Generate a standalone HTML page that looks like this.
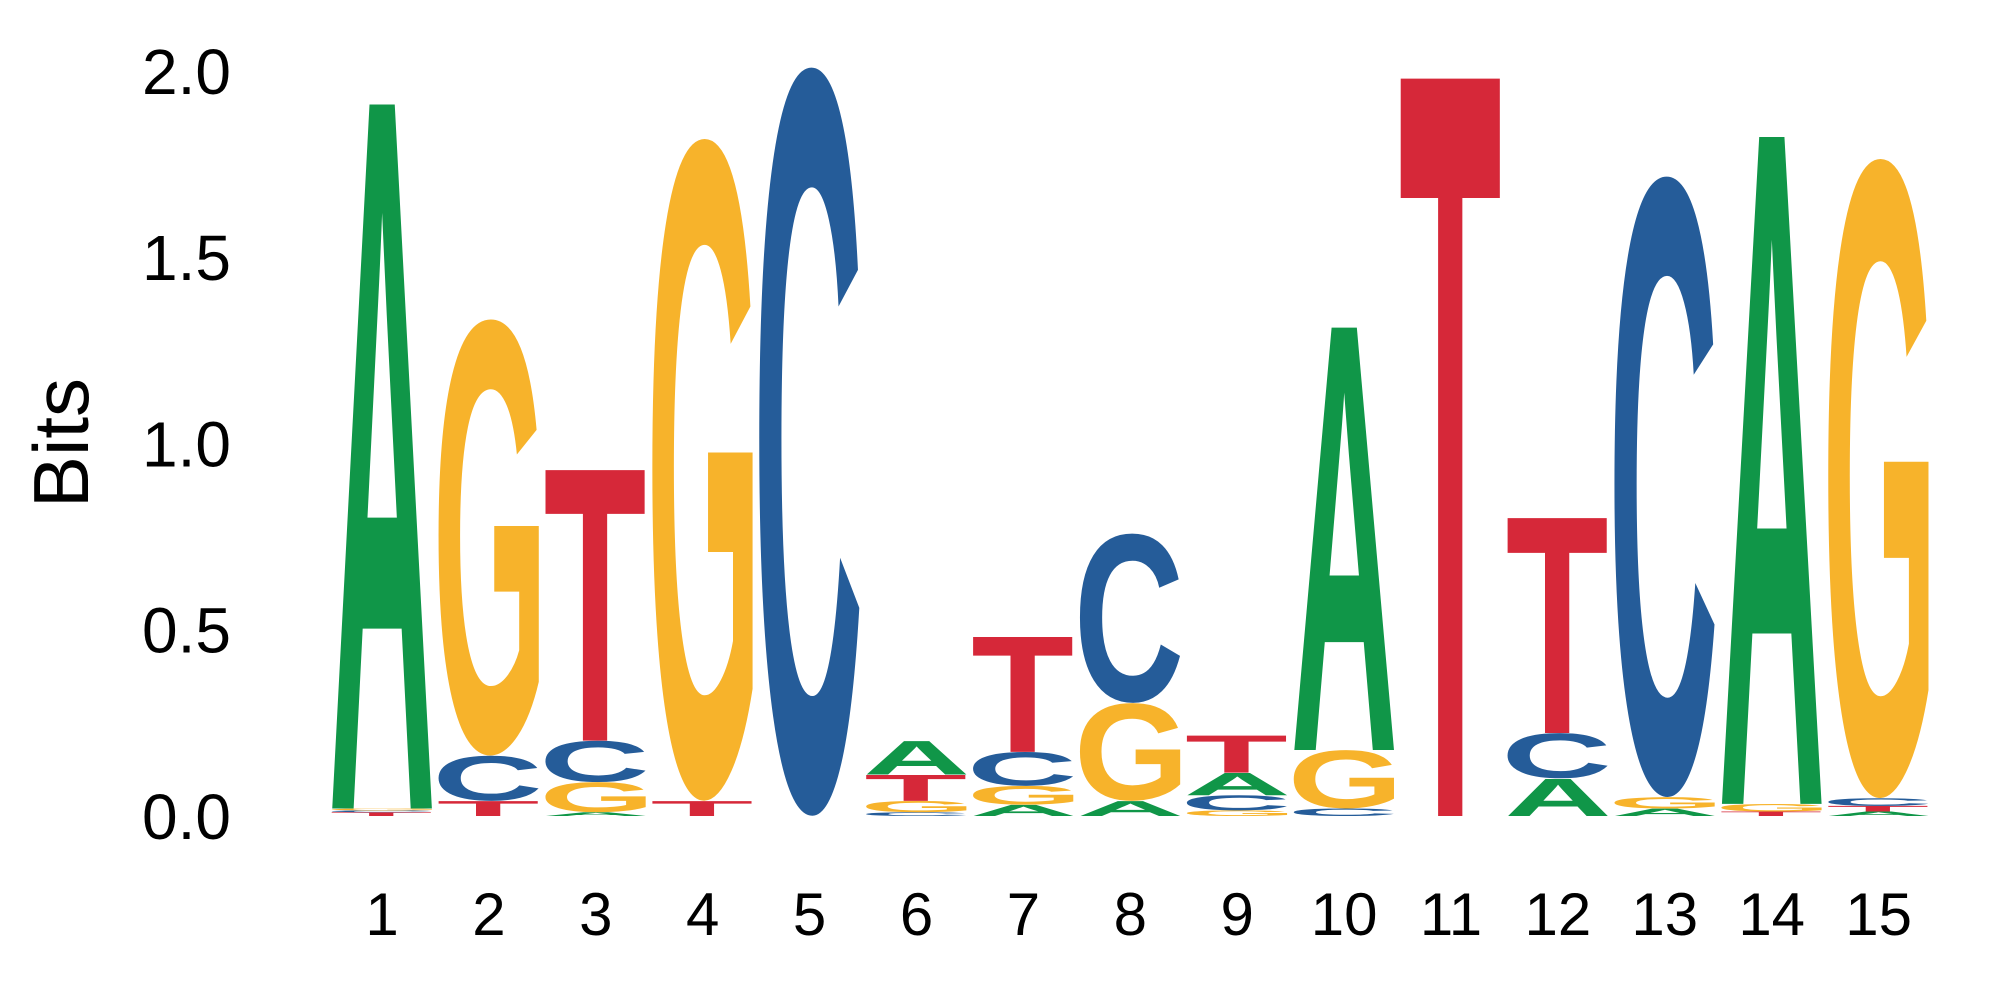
<!DOCTYPE html>
<html><head><meta charset="utf-8">
<style>
html,body{margin:0;padding:0;background:#fff;}
svg{display:block;}
text{font-family:"Liberation Sans",sans-serif;}
</style></head>
<body>
<svg id="chart" width="2000" height="1000" viewBox="0 0 2000 1000" xmlns="http://www.w3.org/2000/svg">
<g id="yaxis"></g>
<g id="xaxis"></g>
<g id="letters"></g>
<text transform="translate(88,443) rotate(-90)" text-anchor="middle" font-size="78" fill="#000">Bits</text>
</svg>
<script>
const positions = [1,2,3,4,5,6,7,8,9,10,11,12,13,14,15];
const stackLetters = [
  ["T","C","G","A"],
  ["T","C","G"],
  ["A","G","C","T"],
  ["T","G"],
  ["C"],
  ["C","G","T","A"],
  ["A","G","C","T"],
  ["A","G","C"],
  ["G","C","A","T"],
  ["C","G","A"],
  ["T"],
  ["A","C","T"],
  ["A","G","C"],
  ["T","G","A"],
  ["A","T","C","G"]
];
const stackHeights = [
  [0.01,0.005,0.005,1.90],
  [0.04,0.12,1.16],
  [0.01,0.08,0.11,0.73],
  [0.04,1.76],
  [1.99],
  [0.01,0.03,0.07,0.09],
  [0.03,0.05,0.09,0.31],
  [0.04,0.26,0.45],
  [0.015,0.04,0.06,0.10],
  [0.02,0.155,1.14],
  [1.99],
  [0.10,0.12,0.58],
  [0.02,0.03,1.65],
  [0.012,0.02,1.80],
  [0.012,0.015,0.02,1.70]
];
const yTicks = [0,0.5,1.0,1.5,2.0];
const yTickLabels = ["0.0","0.5","1.0","1.5","2.0"];
const colors = {A:"#109648",C:"#255C99",G:"#F7B32B",T:"#D62839"};

const NS="http://www.w3.org/2000/svg";
const y0=816, pxPerBit=377;
const x1=382, xStep=106.9, letterW=101;
const yScale=v=>y0-v*pxPerBit;
const xScale=p=>x1+(p-1)*xStep;

const ctx=document.createElement('canvas').getContext('2d');
ctx.font='bold 100px "Liberation Sans"';
const metrics={};
["A","C","G","T"].forEach(l=>{const m=ctx.measureText(l);metrics[l]={l:m.actualBoundingBoxLeft,r:m.actualBoundingBoxRight,a:m.actualBoundingBoxAscent,d:m.actualBoundingBoxDescent};});

const gy=document.getElementById('yaxis');
yTicks.forEach((v,i)=>{
  const t=document.createElementNS(NS,'text');
  
  
  t.setAttribute('x',231);t.setAttribute('y',y0-v*372.6+23);
  t.setAttribute('text-anchor','end');t.setAttribute('font-size','64');
  t.textContent=yTickLabels[i];gy.appendChild(t);
});
const gx=document.getElementById('xaxis');
const gl=document.getElementById('letters');
positions.forEach((p,i)=>{
  const t=document.createElementNS(NS,'text');
  
  
  t.setAttribute('x',xScale(p));t.setAttribute('y',935);
  t.setAttribute('text-anchor','middle');t.setAttribute('font-size','60');
  t.textContent=String(p);gx.appendChild(t);
  let acc=0;
  stackLetters[i].forEach((L,j)=>{
    const h=stackHeights[i][j];
    const bottom=yScale(acc), top=yScale(acc+h);
    acc+=h;
    const m=metrics[L];
    const iw=m.l+m.r, ih=m.a+m.d;
    const sx=letterW/iw, sy=Math.max(bottom-top,0.5)/ih;
    const left=xScale(p)-letterW/2;
    const el=document.createElementNS(NS,'text');
    
    
    el.setAttribute('font-size','100');el.setAttribute('font-weight','bold');
    el.setAttribute('fill',colors[L]);
    el.setAttribute('transform',`translate(${left},${top}) scale(${sx},${sy}) translate(${m.l},${m.a})`);
    el.textContent=L;gl.appendChild(el);
  });
});
</script>
</body></html>
